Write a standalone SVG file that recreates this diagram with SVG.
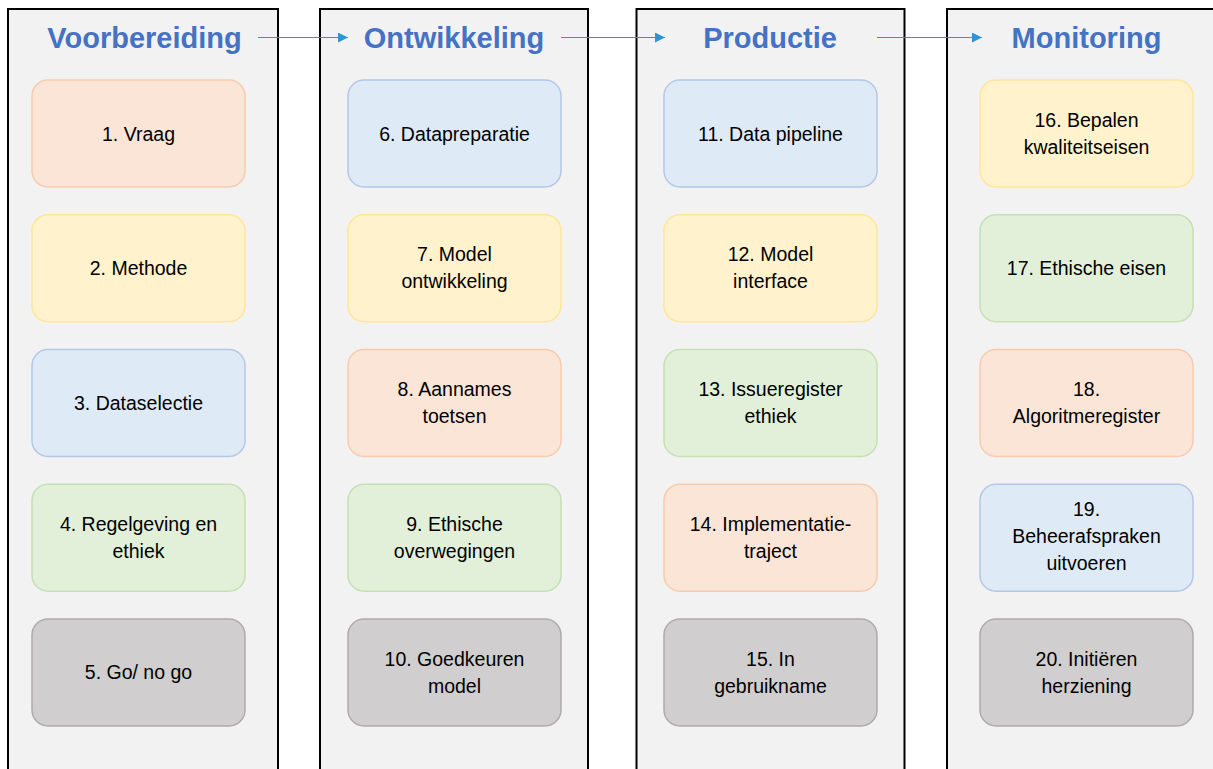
<svg xmlns="http://www.w3.org/2000/svg" width="1213" height="769" viewBox="0 0 1213 769">
<style>
.col{fill:#F2F2F2;stroke:#000;stroke-width:2}
.title{font-family:"Liberation Sans",Arial,sans-serif;font-weight:bold;font-size:29px;fill:#4472C4;text-anchor:middle}
.lbl{font-family:"Liberation Sans",Arial,sans-serif;font-size:19.5px;fill:#000;text-anchor:middle}
.box{stroke-width:1.5}
.or{fill:#FBE5D6;stroke:#F8CBAD}
.ye{fill:#FFF2CC;stroke:#FFE699}
.bl{fill:#DEEBF7;stroke:#B4C7E7}
.gr{fill:#E2F0D9;stroke:#C5E0B4}
.gy{fill:#D0CECE;stroke:#AFABAB}
.arr{stroke:#2E95D3;stroke-width:1.2;fill:none}
</style>
<defs>
<marker id="ah" viewBox="0 0 10 10" refX="10" refY="5" markerWidth="10" markerHeight="10" markerUnits="userSpaceOnUse" orient="auto">
<path d="M0,0 L10,5 L0,10 z" fill="#2E95D3"/>
</marker>
</defs>
<rect width="1213" height="769" fill="#fff"/>
<g id="columns">
<rect class="col" x="8" y="9" width="270" height="790"/>
<rect class="col" x="320" y="9" width="268" height="790"/>
<rect class="col" x="636.5" y="9" width="268" height="790"/>
<rect class="col" x="947" y="9" width="280" height="790"/>
</g>
<g id="titles">
<text class="title" x="144.5" y="48">Voorbereiding</text>
<text class="title" x="454" y="48">Ontwikkeling</text>
<text class="title" x="770" y="48">Productie</text>
<text class="title" x="1086.5" y="48">Monitoring</text>
</g>
<g id="connectors">
<line class="arr" x1="258" y1="37.5" x2="348" y2="37.5" marker-end="url(#ah)"/>
<line class="arr" x1="561" y1="37.5" x2="665" y2="37.5" marker-end="url(#ah)"/>
<line class="arr" x1="877" y1="37.5" x2="982" y2="37.5" marker-end="url(#ah)"/>
</g>
<g id="n1"><rect class="box or" x="32" y="80" width="213" height="107" rx="16"/><text class="lbl" x="138.5" y="140.5">1. Vraag</text></g>
<g id="n2"><rect class="box ye" x="32" y="214.75" width="213" height="107" rx="16"/><text class="lbl" x="138.5" y="275">2. Methode</text></g>
<g id="n3"><rect class="box bl" x="32" y="349.5" width="213" height="107" rx="16"/><text class="lbl" x="138.5" y="410">3. Dataselectie</text></g>
<g id="n4"><rect class="box gr" x="32" y="484.25" width="213" height="107" rx="16"/><text class="lbl" x="138.5" y="531">4. Regelgeving en</text><text class="lbl" x="138.5" y="558">ethiek</text></g>
<g id="n5"><rect class="box gy" x="32" y="619" width="213" height="107" rx="16"/><text class="lbl" x="138.5" y="679">5. Go/ no go</text></g>

<g id="n6"><rect class="box bl" x="348" y="80" width="213" height="107" rx="16"/><text class="lbl" x="454.5" y="140.5">6. Datapreparatie</text></g>
<g id="n7"><rect class="box ye" x="348" y="214.75" width="213" height="107" rx="16"/><text class="lbl" x="454.5" y="261">7. Model</text><text class="lbl" x="454.5" y="288">ontwikkeling</text></g>
<g id="n8"><rect class="box or" x="348" y="349.5" width="213" height="107" rx="16"/><text class="lbl" x="454.5" y="396">8. Aannames</text><text class="lbl" x="454.5" y="423">toetsen</text></g>
<g id="n9"><rect class="box gr" x="348" y="484.25" width="213" height="107" rx="16"/><text class="lbl" x="454.5" y="531">9. Ethische</text><text class="lbl" x="454.5" y="558">overwegingen</text></g>
<g id="n10"><rect class="box gy" x="348" y="619" width="213" height="107" rx="16"/><text class="lbl" x="454.5" y="665.5">10. Goedkeuren</text><text class="lbl" x="454.5" y="692.5">model</text></g>

<g id="n11"><rect class="box bl" x="664" y="80" width="213" height="107" rx="16"/><text class="lbl" x="770.5" y="140.5">11. Data pipeline</text></g>
<g id="n12"><rect class="box ye" x="664" y="214.75" width="213" height="107" rx="16"/><text class="lbl" x="770.5" y="261">12. Model</text><text class="lbl" x="770.5" y="288">interface</text></g>
<g id="n13"><rect class="box gr" x="664" y="349.5" width="213" height="107" rx="16"/><text class="lbl" x="770.5" y="396">13. Issueregister</text><text class="lbl" x="770.5" y="423">ethiek</text></g>
<g id="n14"><rect class="box or" x="664" y="484.25" width="213" height="107" rx="16"/><text class="lbl" x="770.5" y="531">14. Implementatie-</text><text class="lbl" x="770.5" y="558">traject</text></g>
<g id="n15"><rect class="box gy" x="664" y="619" width="213" height="107" rx="16"/><text class="lbl" x="770.5" y="665.5">15. In</text><text class="lbl" x="770.5" y="692.5">gebruikname</text></g>

<g id="n16"><rect class="box ye" x="980" y="80" width="213" height="107" rx="16"/><text class="lbl" x="1086.5" y="127">16. Bepalen</text><text class="lbl" x="1086.5" y="154">kwaliteitseisen</text></g>
<g id="n17"><rect class="box gr" x="980" y="214.75" width="213" height="107" rx="16"/><text class="lbl" x="1086.5" y="275">17. Ethische eisen</text></g>
<g id="n18"><rect class="box or" x="980" y="349.5" width="213" height="107" rx="16"/><text class="lbl" x="1086.5" y="396">18.</text><text class="lbl" x="1086.5" y="423">Algoritmeregister</text></g>
<g id="n19"><rect class="box bl" x="980" y="484.25" width="213" height="107" rx="16"/><text class="lbl" x="1086.5" y="516">19.</text><text class="lbl" x="1086.5" y="543">Beheerafspraken</text><text class="lbl" x="1086.5" y="570">uitvoeren</text></g>
<g id="n20"><rect class="box gy" x="980" y="619" width="213" height="107" rx="16"/><text class="lbl" x="1086.5" y="665.5">20. Initiëren</text><text class="lbl" x="1086.5" y="692.5">herziening</text></g>
</svg>
